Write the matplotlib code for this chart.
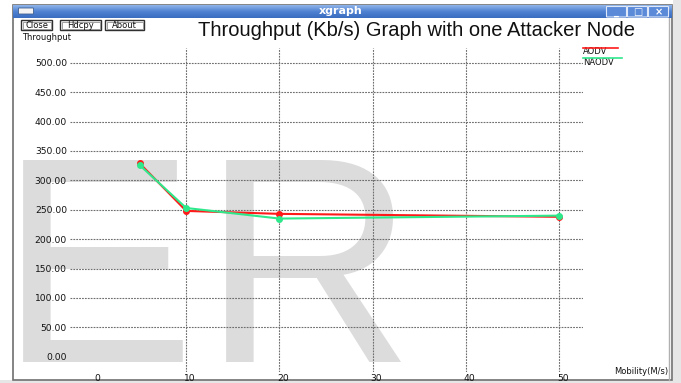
import numpy as np
import matplotlib
matplotlib.use("Agg")
import matplotlib.pyplot as plt
from matplotlib.patches import Rectangle, FancyBboxPatch
from matplotlib.colors import LinearSegmentedColormap
import matplotlib.transforms as mtransforms

# ---- data ----
mobility = [5, 10, 20, 50]
aodv = [329, 248, 243, 238]
naodv = [326, 253, 235, 240]
series_names = ["AODV", "NAODV"]
series_colors = ["#ff1a1a", "#2ee88c"]
x_ticks = [0, 10, 20, 30, 40, 50]
y_ticks = [0, 50, 100, 150, 200, 250, 300, 350, 400, 450, 500]
title = "Throughput (Kb/s) Graph with one Attacker Node"
y_label = "Throughput"
x_label = "Mobility(M/s)"
buttons = ["Close", "Hdcpy", "About"]
watermark = ["E", "R"]

W, H = 681, 383
fig = plt.figure(figsize=(W / 100, H / 100), dpi=100, facecolor="white")

# ---- background / window chrome (pixel coords) ----
bg = fig.add_axes([0, 0, 1, 1], zorder=-5)
bg.set_xlim(0, W)
bg.set_ylim(H, 0)
bg.axis("off")

bg.add_patch(Rectangle((673, 0), 8, H, color="#e6e6e6", lw=0, zorder=0))
bg.add_patch(Rectangle((0, 380), W, 3, color="#e6e6e6", lw=0, zorder=0))
bg.add_patch(Rectangle((13, 5), 659, 375, facecolor="white", edgecolor="#707070", lw=1.2, zorder=0.5))
bg.plot([669, 669], [18, 380], color="#b0b0b0", lw=1, zorder=1)

grad = np.linspace(0, 1, 50).reshape(-1, 1)
cm = LinearSegmentedColormap.from_list("tb", ["#8fb4ea", "#4f82d2", "#3a6cc0"])
bg.imshow(grad, extent=(13, 672, 18, 5), cmap=cm, aspect="auto", zorder=1)
bg.text(341, 11.5, "xgraph", color="white", fontsize=8, fontweight="bold",
        ha="center", va="center", family="DejaVu Sans", zorder=3)
bg.add_patch(FancyBboxPatch((19, 8.5), 14, 5, boxstyle="round,pad=0.5",
                            facecolor="#f4f4f4", edgecolor="#406090", lw=0.6, zorder=3))
for bx, glyph in [(607, "_"), (628, "□"), (649, "×")]:
    bg.add_patch(FancyBboxPatch((bx, 7), 19, 9.5, boxstyle="round,pad=0.5",
                                facecolor="#5a8ad8", edgecolor="#dfe8f8", lw=0.8, zorder=3))
    bg.text(bx + 9.5, 12, glyph, color="white", fontsize=7, fontweight="bold",
            ha="center", va="center", zorder=4, family="DejaVu Sans")

bxs = [(21, 31), (60, 41), (105, 39)]
for (x0, w), lab in zip(bxs, buttons):
    bg.add_patch(Rectangle((x0, 20), w, 10, facecolor="white", edgecolor="#303030", lw=1.0, zorder=3))
    bg.add_patch(Rectangle((x0 + 1.5, 21.5), w - 3, 7, facecolor="none", edgecolor="#909090", lw=0.6, zorder=3))
    bg.text(x0 + w / 2, 25.3, lab, fontsize=6, ha="center", va="center", zorder=4,
            family="DejaVu Sans", color="#111111")

bg.text(22, 37, y_label, fontsize=6, ha="left", va="center", family="DejaVu Sans",
        color="#111111", zorder=3)
bg.text(416, 31, title, fontsize=14.5, ha="center", va="center",
        family="Liberation Sans", color="#111111", zorder=3)
bg.text(668, 372, x_label, fontsize=6, ha="right", va="center", family="DejaVu Sans",
        color="#111111", zorder=3)

# watermark letters
for letter, lx in zip(watermark, [-1, 202]):
    bg.text(lx, 362, letter, fontsize=212, family="Liberation Sans", color="#dcdcdc",
            ha="left", va="baseline", zorder=2)

# legend (xgraph style: coloured bar above name)
for i, (name, col) in enumerate(zip(series_names, series_colors)):
    ty = 51.7 + i * 10.6
    bg.text(583, ty, name, fontsize=6, ha="left", va="center",
            family="DejaVu Sans", color="#111111", zorder=3)
    wpx = 35 + i * 4
    bg.plot([583, 583 + wpx], [ty - 4.0, ty - 4.0], color=col, lw=1.2, zorder=3)

# ---- plot axes ----
left, right, top, bottom = 70, 583, 48, 372
ax = fig.add_axes([left / W, (H - bottom) / H, (right - left) / W, (bottom - top) / H], zorder=1)
ax.patch.set_alpha(0)
ax.set_xlim((left - 93) / 9.32, (right - 93) / 9.32)
ax.set_ylim((356.8 - bottom) / 0.5882, (356.8 - top) / 0.5882)
for s in ax.spines.values():
    s.set_visible(False)

ax.set_xticks(x_ticks)
ax.set_yticks(y_ticks)
ax.set_yticklabels([f"{v:.2f}" for v in y_ticks])
ax.set_xticklabels([str(v) for v in x_ticks])
ax.tick_params(length=0, labelsize=6.6, labelcolor="#111111")
ax.tick_params(axis="y", pad=2.2)
ax.tick_params(axis="x", pad=1.5)
off = mtransforms.ScaledTranslation(4 / 100, 0, fig.dpi_scale_trans)
for lbl in ax.get_xticklabels():
    lbl.set_transform(lbl.get_transform() + off)

ax.grid(True, color="#6e6e6e", lw=0.8, linestyle=(0, (1.6, 1.0)))
ax.xaxis.get_gridlines()[0].set_visible(False)
ax.yaxis.get_gridlines()[0].set_visible(False)

ax.plot(mobility, aodv, color=series_colors[0], lw=1.5, marker="o", ms=4, zorder=3)
ax.plot(mobility, naodv, color=series_colors[1], lw=1.5, marker="o", ms=4, zorder=4)

fig.savefig("out.png", dpi=100, facecolor="white")
